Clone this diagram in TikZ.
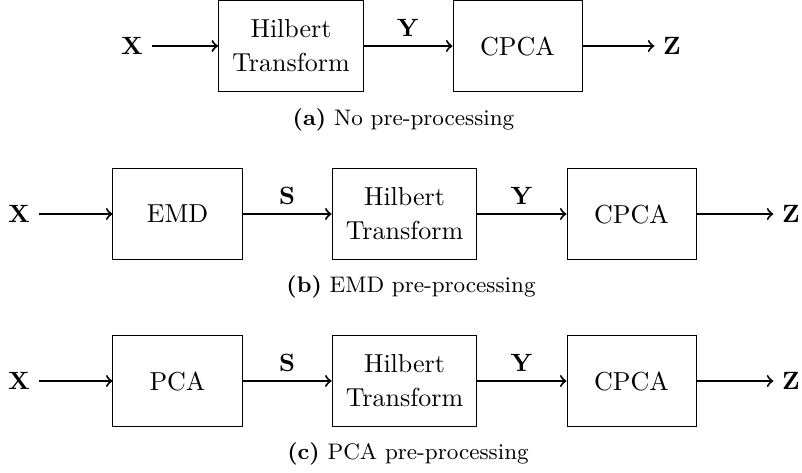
\documentclass[tikz,border=0pt]{standalone}
\usetikzlibrary{positioning}
\begin{document}
\begin{tikzpicture}[x=0.4pt, y=-0.4pt,
    block/.style={draw, minimum width=51.6pt, minimum height=36.4pt, align=center, inner xsep=5.5pt,
      font=\fontsize{10.4}{13.6}\selectfont},
    flow/.style={->, thick}]

    \useasboundingbox (0,0) rectangle (802,473);

    % (a) straight into the Hilbert transform
    \node[block] (hil-a) at (291,46) {Hilbert\\Transform};
    \node[block] (cpca-a) at (517.5,46) {CPCA};
    \node (x-a) at (132,46) {$\mathbf{X}$};
    \node (z-a) at (672,46) {$\mathbf{Z}$};
    \draw[flow] (x-a) -- (hil-a);
    \draw[flow] (hil-a) -- node[above] {$\mathbf{Y}$} (cpca-a);
    \draw[flow] (cpca-a) -- (z-a);
    \node (cap-a) at (403.5,120) {\small\textbf{(a)} No pre-processing};

    % (b) and (c) have one block in front
    \foreach \row/\pre/\y/\cx/\cy in {b/EMD/214/411/287, c/PCA/381/408/454}
    {
      \node[block] (pre-\row) at (177.5,\y) {\pre};
      \node[block] (hil-\row) at (404.5,\y) {Hilbert\\Transform};
      \node[block] (cpca-\row) at (631.5,\y) {CPCA};
      \node (x-\row) at (19,\y) {$\mathbf{X}$};
      \node (z-\row) at (791,\y) {$\mathbf{Z}$};
      \draw[flow] (x-\row) -- (pre-\row);
      \draw[flow] (pre-\row) -- node[above] {$\mathbf{S}$} (hil-\row);
      \draw[flow] (hil-\row) -- node[above] {$\mathbf{Y}$} (cpca-\row);
      \draw[flow] (cpca-\row) -- (z-\row);
      \node (cap-\row) at (\cx,\cy) {\small\textbf{(\row)} \pre{} pre-processing};
    }
\end{tikzpicture}
\end{document}
